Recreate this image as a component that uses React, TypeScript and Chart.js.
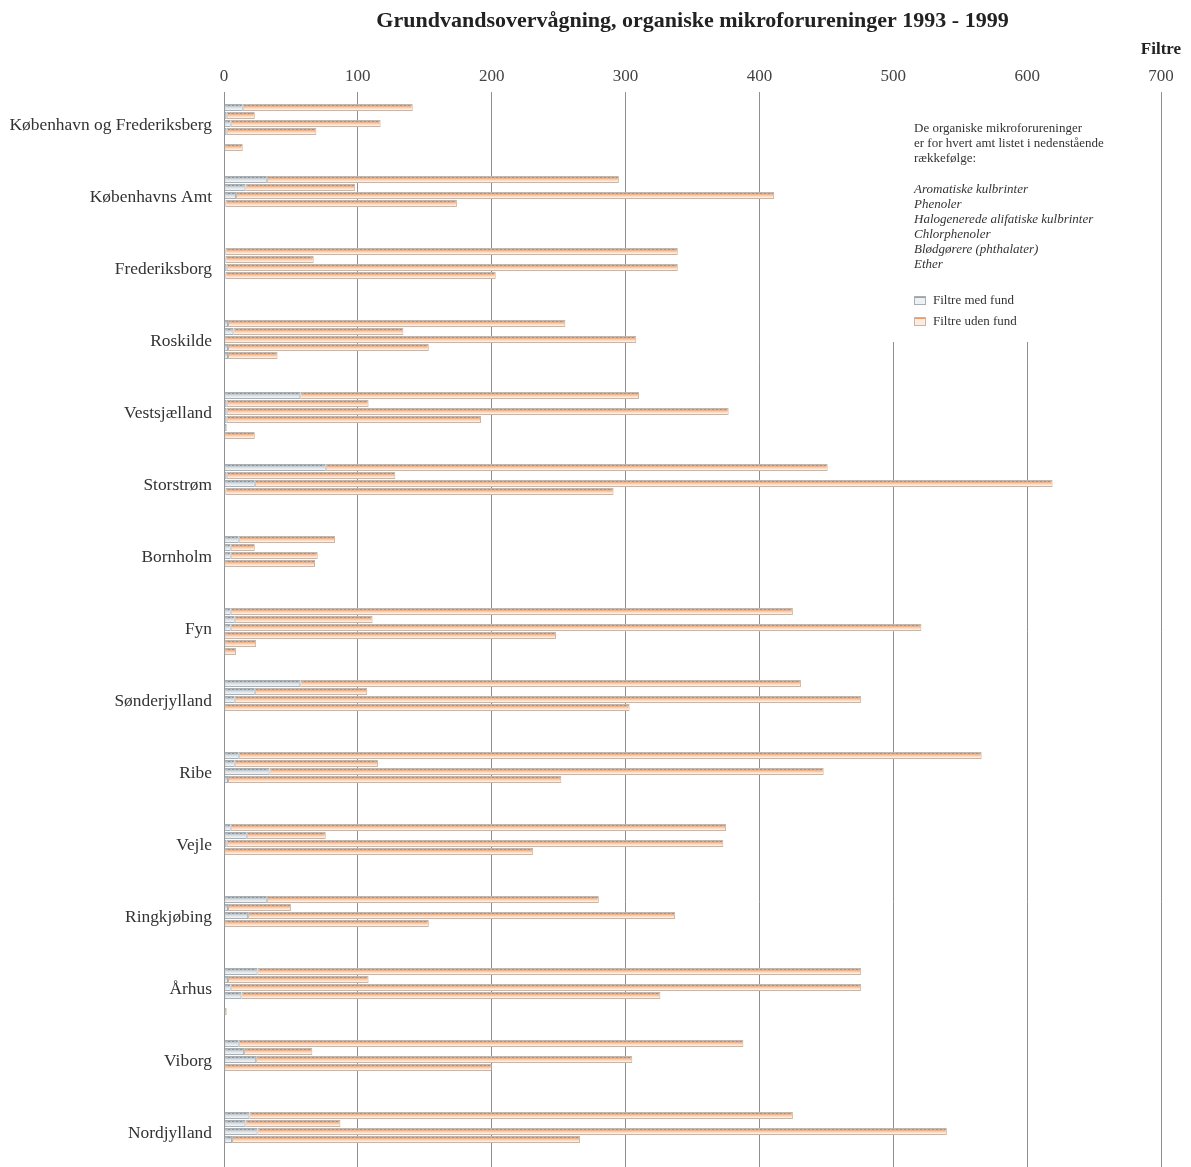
import React, { useEffect, useRef } from "react";
import { Chart, registerables } from "chart.js";

Chart.register(...registerables);

const TITLE = "Grundvandsovervågning, organiske mikroforureninger 1993 - 1999";
const UNIT = "Filtre";

const regions = [
  "København og Frederiksberg",
  "Københavns Amt",
  "Frederiksborg",
  "Roskilde",
  "Vestsjælland",
  "Storstrøm",
  "Bornholm",
  "Fyn",
  "Sønderjylland",
  "Ribe",
  "Vejle",
  "Ringkjøbing",
  "Århus",
  "Viborg",
  "Nordjylland",
];

const stoffer = [
  "Aromatiske kulbrinter",
  "Phenoler",
  "Halogenerede alifatiske kulbrinter",
  "Chlorphenoler",
  "Blødgørere (phthalater)",
  "Ether",
];

const noteLines = [
  "De organiske mikroforureninger",
  "er for hvert amt listet i nedenstående",
  "rækkefølge:",
];

const seriesNames = ["Filtre med fund", "Filtre uden fund"];

const xTicks = [0, 100, 200, 300, 400, 500, 600, 700];

// Filtre med fund / uden fund per stof, one value per amt (null = ikke vist)
const aromMed = [14, 32, 1, 3, 57, 76, 11, 5, 57, 11, 5, 32, 25, 11, 19];
const aromUden = [127, 263, 338, 252, 253, 375, 72, 420, 374, 555, 370, 248, 451, 377, 406];
const phenMed = [2, 16, 1, 7, 2, 2, 5, 8, 23, 8, 17, 3, 3, 15, 16];
const phenUden = [21, 82, 66, 127, 106, 126, 18, 103, 84, 107, 59, 47, 105, 51, 71];
const halogMed = [5, 9, 2, 0, 2, 23, 5, 5, 8, 34, 2, 18, 5, 24, 25];
const halogUden = [112, 402, 337, 308, 375, 596, 65, 516, 468, 414, 371, 319, 471, 281, 515];
const chlorMed = [2, 1, 1, 3, 2, 1, 0, 0, 0, 3, 0, 0, 13, 0, 6];
const chlorUden = [67, 173, 202, 150, 190, 290, 68, 248, 303, 249, 231, 153, 313, 200, 260];
const bloedMed = [null, null, null, 3, 2, null, null, 0, null, null, null, null, null, null, null];
const bloedUden = [null, null, null, 37, 0, null, null, 24, null, null, null, null, null, null, null];
const etherMed = [0, null, null, null, 0, null, null, 0, null, null, null, null, 0, null, null];
const etherUden = [14, null, null, null, 23, null, null, 9, null, null, null, null, 2, null, null];

const medSeries = [aromMed, phenMed, halogMed, chlorMed, bloedMed, etherMed];
const udenSeries = [aromUden, phenUden, halogUden, chlorUden, bloedUden, etherUden];

const SERIF = '"Liberation Serif", "Times New Roman", "DejaVu Serif", serif';

function makePattern(ctx: CanvasRenderingContext2D, rows: string[][]) {
  const c = document.createElement("canvas");
  c.width = 4;
  c.height = 8;
  const p = c.getContext("2d")!;
  rows.forEach((row, y) => {
    for (let x = 0; x < 4; x++) {
      p.fillStyle = row[x % row.length];
      p.fillRect(x, y, 1, 1);
    }
  });
  return ctx.createPattern(c, "repeat")!;
}

const udenRows = [
  ["#c9bcb0"],
  ["#dc8050", "#dc8050", "#eba27a", "#eba27a"],
  ["#f0b690"],
  ["#f5cbad"],
  ["#f9dfcb"],
  ["#fcede1"],
  ["#fdf2e8"],
  ["#ffffff"],
];
const medRows = [
  ["#b7bcc0"],
  ["#8a949d", "#8a949d", "#b3bbc1", "#b3bbc1"],
  ["#c4ccd2"],
  ["#d8dee2"],
  ["#e5e9ec"],
  ["#eef1f3"],
  ["#f1f3f5"],
  ["#ffffff"],
];

const overlayPlugin = {
  id: "overlayText",
  afterDraw(chart: any) {
    const { ctx, chartArea, scales } = chart;
    ctx.save();
    ctx.fillStyle = "#222";
    ctx.textAlign = "center";
    ctx.textBaseline = "middle";
    ctx.font = `bold 22px ${SERIF}`;
    ctx.fillText(TITLE, (chartArea.left + chartArea.right) / 2, 21);
    ctx.font = `bold 17px ${SERIF}`;
    ctx.fillText(UNIT, scales.x.getPixelForValue(700), 50);

    // note box
    ctx.fillStyle = "#ffffff";
    ctx.fillRect(884, 92, 256, 250);
    ctx.textAlign = "left";
    ctx.fillStyle = "#333";
    ctx.font = `13px ${SERIF}`;
    noteLines.forEach((t, i) => ctx.fillText(t, 914, 129 + i * 15));
    ctx.font = `italic 13px ${SERIF}`;
    stoffer.forEach((t, i) => ctx.fillText(t, 914, 190 + i * 15));

    const sw = [
      { y: 301, fill: "#eef1f3", top: "#9aa3ab", border: "#a8afb5" },
      { y: 322, fill: "#fcecdf", top: "#e79a6c", border: "#c9b8aa" },
    ];
    ctx.font = `13px ${SERIF}`;
    sw.forEach((s, i) => {
      ctx.fillStyle = s.fill;
      ctx.fillRect(914, s.y - 5, 12, 9);
      ctx.fillStyle = s.top;
      ctx.fillRect(914, s.y - 5, 12, 2);
      ctx.strokeStyle = s.border;
      ctx.lineWidth = 1;
      ctx.strokeRect(914.5, s.y - 4.5, 11, 8);
      ctx.fillStyle = "#333";
      ctx.fillText(seriesNames[i], 933, s.y);
    });
    ctx.restore();
  },
};

export default function App() {
  const ref = useRef<HTMLCanvasElement>(null);

  useEffect(() => {
    const canvas = ref.current!;
    const ctx = canvas.getContext("2d")!;
    const pUden = makePattern(ctx, udenRows);
    const pMed = makePattern(ctx, medRows);

    const datasets: any[] = [];
    stoffer.forEach((s, i) => {
      datasets.push({
        label: seriesNames[0] + " – " + s,
        data: medSeries[i],
        stack: "s" + i,
        backgroundColor: pMed,
        borderColor: "#a9b0b5",
        borderWidth: 1,
        borderSkipped: false,
      });
      datasets.push({
        label: seriesNames[1] + " – " + s,
        data: udenSeries[i],
        stack: "s" + i,
        backgroundColor: pUden,
        borderColor: "#c4b6aa",
        borderWidth: 1,
        borderSkipped: false,
      });
    });

    const chart = new Chart(canvas, {
      type: "bar",
      data: { labels: regions, datasets },
      options: {
        indexAxis: "y",
        responsive: false,
        animation: false,
        devicePixelRatio: 1,
        categoryPercentage: 48 / 72,
        barPercentage: 0.875,
        layout: { padding: { top: 50, right: 30, bottom: 0.5, left: 0 } },
        plugins: {
          legend: { display: false },
          title: { display: false },
          tooltip: { enabled: false },
        },
        scales: {
          x: {
            type: "linear",
            position: "top",
            min: 0,
            max: 700,
            stacked: true,
            afterBuildTicks: (scale: any) => {
              scale.ticks = xTicks.map((v) => ({ value: v }));
            },
            afterFit: (scale: any) => {
              scale.height = 41.5;
              scale.paddingLeft = 0;
              scale.paddingRight = 0;
            },
            ticks: {
              color: "#444",
              font: { family: SERIF, size: 17 },
              padding: 5,
              maxRotation: 0,
            },
            grid: { color: "#8f8f8f", lineWidth: 1, drawTicks: false },
            border: { display: false },
          },
          y: {
            type: "category",
            afterFit: (scale: any) => {
              scale.width = 224;
              scale.paddingTop = 0;
              scale.paddingBottom = 0;
            },
            ticks: {
              color: "#333",
              font: { family: SERIF, size: 17.4 },
              padding: 12,
              labelOffset: -2,
              autoSkip: false,
            },
            grid: { display: false, drawTicks: false },
            border: { display: false },
          },
        },
      },
      plugins: [overlayPlugin],
    } as any);

    return () => chart.destroy();
  }, []);

  return (
    <div
      style={{
        position: "fixed",
        left: 0,
        top: 0,
        width: 1191,
        height: 1167,
        overflow: "hidden",
        background: "#fff",
      }}
    >
      <canvas ref={ref} width={1191} height={1172} style={{ display: "block" }} />
    </div>
  );
}
